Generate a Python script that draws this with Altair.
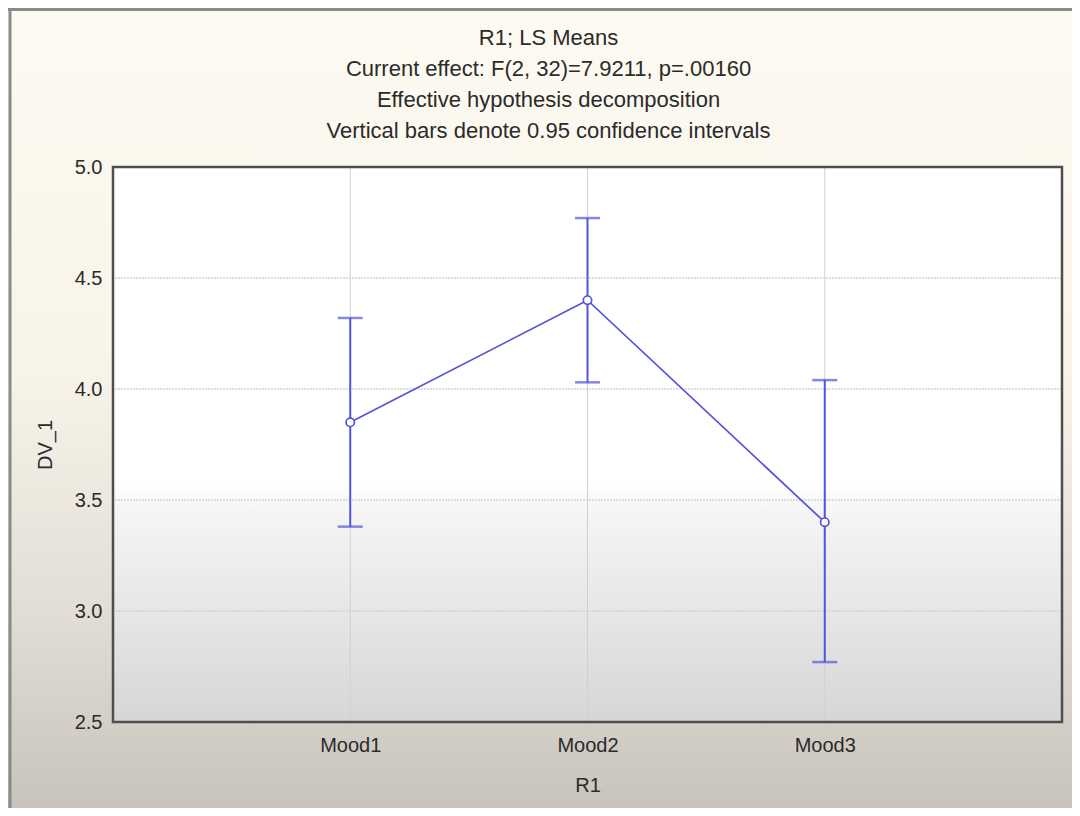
import altair as alt
import pandas as pd

# ---- data ----
moods = ["Mood1", "Mood2", "Mood3"]
means = [3.85, 4.40, 3.40]
lower = [3.38, 4.03, 2.77]
upper = [4.32, 4.77, 4.04]
y_ticks = [2.5, 3.0, 3.5, 4.0, 4.5, 5.0]
title_lines = [
    "R1; LS Means",
    "Current effect: F(2, 32)=7.9211, p=.00160",
    "Effective hypothesis decomposition",
    "Vertical bars denote 0.95 confidence intervals",
]

df = pd.DataFrame({"mood": moods, "mean": means, "lower": lower, "upper": upper})
ticks_df = pd.DataFrame({"v": y_ticks})
one = pd.DataFrame({"d": [0]})

W, H = 949, 555
PL, PT, PR, PB = 105, 159, 10, 86
FONT = "Liberation Sans"
TXT = "#2b2b2b"
BLUE = "#5454d8"

yscale = alt.Scale(domain=[2.5, 5.0], zero=False, nice=False)
yaxis = alt.Axis(values=y_ticks, format=".1f", title="DV_1", zindex=2,
                 grid=False, domain=False, ticks=False)
xscale = alt.Scale(type="point", padding=1, domain=moods)
xaxis = alt.Axis(title="R1", labelAngle=0, zindex=2,
                 grid=False, domain=False, ticks=False)


def Y(field):
    return alt.Y(field, type="quantitative", scale=yscale, axis=yaxis)


def X():
    return alt.X("mood:N", scale=xscale, axis=xaxis)


# outer window background (gradient cream -> grey)
outer_bg = alt.Chart(one).mark_rect(
    fill=alt.Gradient(
        gradient="linear", x1=0, y1=0, x2=0, y2=1,
        stops=[
            alt.GradientStop(offset=0, color="#fdfaf1"),
            alt.GradientStop(offset=0.45, color="#f8f4ea"),
            alt.GradientStop(offset=0.75, color="#e2ded5"),
            alt.GradientStop(offset=1, color="#c8c4bc"),
        ],
    )
).encode(
    x=alt.value(-PL), x2=alt.value(W + PR),
    y=alt.value(-PT), y2=alt.value(H + PB),
)

# window frame lines (left / top)
frame_left = alt.Chart(one).mark_rule(color="#8a8a8a", strokeWidth=3).encode(
    x=alt.value(-PL + 2), y=alt.value(-PT), y2=alt.value(H + PB)
)
frame_top = alt.Chart(one).mark_rule(color="#8a8a8a", strokeWidth=3).encode(
    x=alt.value(-PL), x2=alt.value(W + PR), y=alt.value(-PT + 1.5)
)

# plot-area gradient
plot_bg = alt.Chart(one).mark_rect(
    fill=alt.Gradient(
        gradient="linear", x1=0, y1=0, x2=0, y2=1,
        stops=[
            alt.GradientStop(offset=0, color="#ffffff"),
            alt.GradientStop(offset=0.57, color="#ffffff"),
            alt.GradientStop(offset=0.62, color="#f5f5f5"),
            alt.GradientStop(offset=1, color="#d6d6d6"),
        ],
    )
).encode(x=alt.value(0), x2=alt.value(W), y=alt.value(0), y2=alt.value(H))

# grid
hgrid = alt.Chart(ticks_df).mark_rule(
    color="#d2d2d2", strokeWidth=1.5, strokeDash=[2, 1]
).encode(y=Y("v"))
vgrid = alt.Chart(df).mark_rule(color="#d0d0d0", strokeWidth=1).encode(x=X())

# error bars
bars = alt.Chart(df).mark_rule(color=BLUE, strokeWidth=2).encode(
    x=X(), y=Y("lower"), y2="upper"
)
cap_lo = alt.Chart(df).mark_tick(color=BLUE, size=25, thickness=2.5).encode(
    x=X(), y=Y("lower")
)
cap_hi = alt.Chart(df).mark_tick(color=BLUE, size=25, thickness=2.5).encode(
    x=X(), y=Y("upper")
)

line = alt.Chart(df).mark_line(color=BLUE, strokeWidth=1.7).encode(
    x=X(), y=Y("mean")
)
pts = alt.Chart(df).mark_point(
    shape="circle", filled=True, fill="white", stroke=BLUE,
    strokeWidth=1.7, size=70, opacity=1
).encode(x=X(), y=Y("mean"))

# plot frame
frame = alt.Chart(one).mark_rect(
    fillOpacity=0, stroke="#4e4e4e", strokeWidth=2.5
).encode(x=alt.value(0), x2=alt.value(W), y=alt.value(0), y2=alt.value(H))

chart = alt.layer(
    outer_bg, frame_left, frame_top, plot_bg, hgrid, vgrid,
    bars, cap_lo, cap_hi, line, pts, frame
).properties(
    width=W, height=H,
    autosize=alt.AutoSizeParams(type="none"),
    padding={"left": PL, "top": PT, "right": PR, "bottom": PB},
    title=alt.TitleParams(
        text=title_lines, anchor="middle", frame="group", font=FONT, fontSize=22,
        fontWeight="normal", color=TXT, lineHeight=31, offset=-(PT - 23), dx=-39,
        zindex=2,
    ),
).configure_view(stroke=None).configure_axis(
    labelFont=FONT, labelFontSize=20, labelColor=TXT,
    titleFont=FONT, titleFontSize=20, titleFontWeight="normal", titleColor=TXT,
).configure_axisY(labelPadding=11, titlePadding=19).configure_axisX(
    labelPadding=13, titlePadding=20
)

chart.save("out.html", embed_options={"renderer": "svg", "actions": False})
